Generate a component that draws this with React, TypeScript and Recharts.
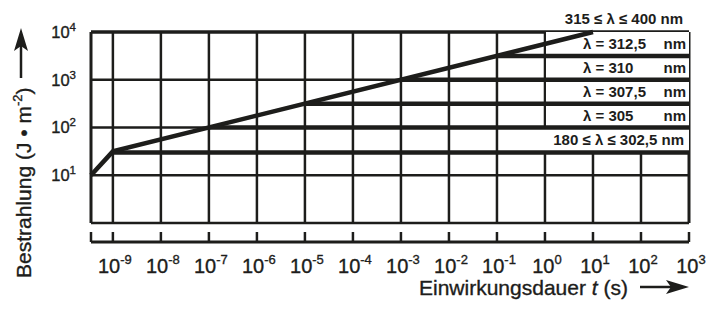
import React from 'react';
import {
  LineChart,
  Line,
  XAxis,
  YAxis,
  ReferenceLine,
  ReferenceArea
} from 'recharts';

const FONT = '"Liberation Sans", Arial, Helvetica, sans-serif';
const INK = '#1d1d1b';
// the scan prints a little heavier than a plain regular face
const HEAVY = { stroke: INK, strokeWidth: 0.35 };

// axis limits (the plot starts a bit left of 10^-9)
const T_MIN = 3.5e-10;
const T_MAX = 1e3;
const H_MIN = 0.4; // room below 10^0 for the separate time axis
const H_MAX = 1e4;

// decade grid / tick values
const timeDecades = [1e-9, 1e-8, 1e-7, 1e-6, 1e-5, 1e-4, 1e-3, 1e-2, 1e-1, 1e0, 1e1, 1e2, 1e3];
const doseDecades = [1, 10, 100, 1000, 10000];
const doseTicks = [10, 100, 1000, 10000];

// envelope: short ramp, then the 315-400 nm slope
const envelopeT = [3.5e-10, 1e-9, 10];
const envelopeH = [10, 31.6, 10000];

// plateaus per wavelength
const plateauNames = ['180 ≤ λ ≤ 302,5', 'λ = 305', 'λ = 307,5', 'λ = 310', 'λ = 312,5'];
const plateauH = [30, 100, 316, 1000, 3160];
const plateauStart = [1e-9, 1e-7, 1e-5, 1e-3, 1e-1];
const topLabel = '315 ≤ λ ≤ 400 nm';

const envelope = envelopeT.map((t, i) => ({ t, h: envelopeH[i] }));
const plateaus = plateauH.map((h, i) => [
  { t: plateauStart[i], h },
  { t: T_MAX, h }
]);

const exp10 = (v: number) => Math.round(Math.log10(v));

const XTick = ({ x, y, payload }: any) => {
  const v = payload.value;
  const isDecade = Math.abs(Math.log10(v) - exp10(v)) < 0.01;
  return (
    <g>
      <line x1={x} y1={y} x2={x} y2={y - 10} stroke={INK} strokeWidth={2.5} />
      {isDecade && (
        <text x={x + 2} y={y + 31} textAnchor="middle" fontFamily={FONT} fontSize={20} fill={INK} {...HEAVY}>
          10<tspan fontSize={13} dy={-9}>{exp10(v)}</tspan>
        </text>
      )}
    </g>
  );
};

const YTick = ({ x, y, payload }: any) => (
  <text x={x} y={y + 6} textAnchor="end" fontFamily={FONT} fontSize={16.5} fill={INK} {...HEAVY}>
    10<tspan fontSize={11.5} dy={-7}>{exp10(payload.value)}</tspan>
  </text>
);

const XTitle = () => (
  <g>
    <text x={419} y={295} fontFamily={FONT} fontSize={21} fill={INK} {...HEAVY}>
      Einwirkungsdauer <tspan fontStyle="italic">t</tspan> (s)
    </text>
    <line x1={640} y1={287} x2={672} y2={287} stroke={INK} strokeWidth={2.5} />
    <path d="M689,287 L666,280 L671,287 L666,294 Z" fill={INK} />
  </g>
);

const YTitle = () => (
  <g transform="translate(31,278) rotate(-90)">
    <text x={0} y={0} fontFamily={FONT} fontSize={21} fill={INK} {...HEAVY}>
      Bestrahlung (J • m<tspan fontSize={13} dy={-9}>-2</tspan>
      <tspan dy={9}>)</tspan>
    </text>
    <line x1={200} y1={-10} x2={232} y2={-10} stroke={INK} strokeWidth={2.5} />
    <path d="M250,-10 L227,-17 L232,-10 L227,-3 Z" fill={INK} />
  </g>
);

const BandLabel = ({ viewBox, name, single }: any) => {
  const { x, y, width, height } = viewBox;
  const right = x + width;
  const base = y + height / 2 + 5.5;
  if (single) {
    return (
      <text x={right - 5} y={base} textAnchor="end" fontFamily={FONT} fontSize={15} fontWeight="bold" fill={INK}>
        {name} nm
      </text>
    );
  }
  return (
    <g>
      <text x={right - 106} y={base} fontFamily={FONT} fontSize={15} fontWeight="bold" fill={INK}>
        {name}
      </text>
      <text x={right - 3} y={base} textAnchor="end" fontFamily={FONT} fontSize={15} fontWeight="bold" fill={INK}>
        nm
      </text>
    </g>
  );
};

const TopLabel = ({ viewBox }: any) => (
  <text
    x={viewBox.x + viewBox.width - 6}
    y={viewBox.y - 8}
    textAnchor="end"
    fontFamily={FONT}
    fontSize={15}
    fontWeight="bold"
    fill={INK}
  >
    {topLabel}
  </text>
);

export default function App() {
  const verticals = [T_MIN, ...timeDecades];
  return (
    <div style={{ width: 711, height: 316, background: '#fff' }}>
      <style>{'body{margin:0;background:#fff}'}</style>
      <LineChart width={711} height={316} margin={{ top: 32, right: 22, bottom: 34, left: 31 }}>
        <XAxis
          type="number"
          dataKey="t"
          scale="log"
          domain={[T_MIN, T_MAX]}
          ticks={verticals}
          interval={0}
          tick={<XTick />}
          tickLine={false}
          tickSize={0}
          tickMargin={0}
          axisLine={{ stroke: INK, strokeWidth: 3 }}
          height={40}
          label={<XTitle />}
        />
        <YAxis
          type="number"
          dataKey="h"
          scale="log"
          domain={[H_MIN, H_MAX]}
          ticks={doseTicks}
          interval={0}
          tick={<YTick />}
          tickLine={false}
          tickSize={0}
          tickMargin={15}
          axisLine={false}
          width={60}
          label={<YTitle />}
        />

        {/* grid, drawn as segments so it stops at 10^0 */}
        {verticals.map((t, i) => (
          <ReferenceLine
            key={'v' + i}
            segment={[{ x: t, y: 1 }, { x: t, y: H_MAX }]}
            stroke={INK}
            strokeWidth={i === 0 || t === T_MAX ? 3 : 2.5}
            ifOverflow="visible"
            zIndex={50}
          />
        ))}
        {doseDecades.map((h, i) => (
          <ReferenceLine
            key={'h' + i}
            segment={[{ x: T_MIN, y: h }, { x: T_MAX, y: h }]}
            stroke={INK}
            strokeWidth={h === H_MAX ? 3.5 : 2.5}
            ifOverflow="visible"
            zIndex={50}
            label={h === H_MAX ? <TopLabel /> : undefined}
          />
        ))}

        {/* white label boxes */}
        {plateauH.map((h, i) => (
          <ReferenceArea
            key={'b' + i}
            x1={i === 0 ? 0.7 : 1.05}
            x2={T_MAX}
            y1={h}
            y2={i < plateauH.length - 1 ? plateauH[i + 1] : H_MAX}
            fill="#fff"
            fillOpacity={1}
            stroke="none"
            ifOverflow="visible"
            zIndex={60}
            label={<BandLabel name={plateauNames[i]} single={i === 0} />}
          />
        ))}

        <Line
          data={envelope}
          dataKey="h"
          type="linear"
          stroke={INK}
          strokeWidth={4.5}
          dot={false}
          activeDot={false}
          legendType="none"
          isAnimationActive={false}
        />
        {plateaus.map((d, i) => (
          <Line
            key={'p' + i}
            data={d}
            dataKey="h"
            type="linear"
            stroke={INK}
            strokeWidth={4.5}
            dot={false}
            activeDot={false}
            legendType="none"
            isAnimationActive={false}
          />
        ))}
      </LineChart>
    </div>
  );
}
